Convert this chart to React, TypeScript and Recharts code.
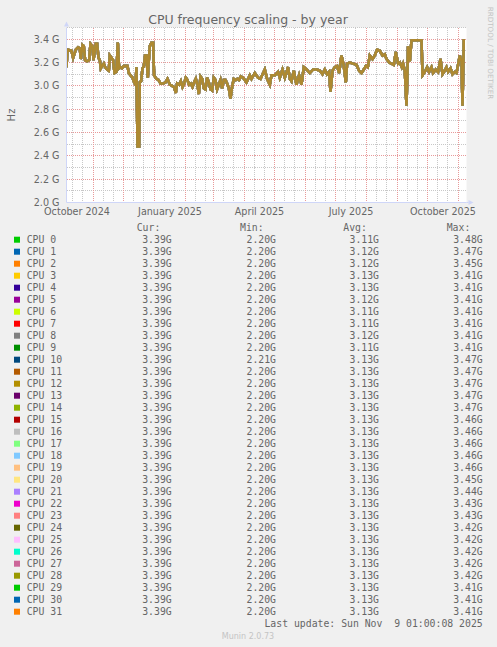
import React from 'react';
import { LineChart, Line, XAxis, YAxis, ReferenceLine } from 'recharts';

// munin palette, one per cpu
const cpuColors = [
  '#00CC00', '#0066B3', '#FF8000', '#FFCC00', '#330099', '#990099', '#CCFF00', '#FF0000',
  '#808080', '#008F00', '#00487D', '#B35A00', '#B38F00', '#6B006B', '#8FB300', '#B30000',
  '#BEBEBE', '#80FF80', '#80C9FF', '#FFC080', '#FFE680', '#AA80FF', '#EE00CC', '#FF8080',
  '#666600', '#FFBFFF', '#00FFCC', '#CC6699', '#999900', '#00CC00', '#0066B3', '#FF8000',
];
const cpuNames = cpuColors.map((_, i) => `CPU ${i}`);

const curValues = Array(32).fill('3.39G');
const minValues = [
  '2.20G', '2.20G', '2.20G', '2.20G', '2.20G', '2.20G', '2.20G', '2.20G',
  '2.20G', '2.20G', '2.21G', '2.20G', '2.20G', '2.20G', '2.20G', '2.20G',
  '2.20G', '2.20G', '2.20G', '2.20G', '2.20G', '2.20G', '2.20G', '2.20G',
  '2.20G', '2.20G', '2.20G', '2.20G', '2.20G', '2.20G', '2.20G', '2.20G',
];
const avgValues = [
  '3.11G', '3.12G', '3.12G', '3.13G', '3.13G', '3.12G', '3.11G', '3.11G',
  '3.12G', '3.11G', '3.13G', '3.13G', '3.13G', '3.13G', '3.13G', '3.13G',
  '3.13G', '3.13G', '3.13G', '3.13G', '3.13G', '3.13G', '3.13G', '3.13G',
  '3.13G', '3.13G', '3.13G', '3.13G', '3.13G', '3.13G', '3.13G', '3.13G',
];
const maxValues = [
  '3.48G', '3.47G', '3.45G', '3.41G', '3.41G', '3.41G', '3.41G', '3.41G',
  '3.41G', '3.41G', '3.47G', '3.47G', '3.47G', '3.47G', '3.47G', '3.46G',
  '3.46G', '3.46G', '3.46G', '3.46G', '3.45G', '3.44G', '3.43G', '3.43G',
  '3.42G', '3.42G', '3.42G', '3.42G', '3.42G', '3.41G', '3.41G', '3.41G',
];

// days since 2024-10-05 (left edge of the graph)
const days = [
  0, 1, 5, 6.6, 9.3, 11.6, 13.3, 14.3, 16, 17.3, 18.6, 20.6, 22.6, 24, 26, 27, 28.3, 29.3, 30.6, 32,
  33.3, 34.3, 35.6, 37.3, 38.6, 40.6, 42.3, 43.3, 45, 46.6, 48, 50, 51.3, 52.6, 54, 55.6, 57.3, 59.3,
  61, 62.3, 64, 66, 67.6, 69, 70, 71, 72.6, 73.3, 74.6, 76, 77.3, 78.6, 80, 81.3, 82, 83.3, 85, 86.6,
  87.6, 90, 92, 94, 96.6, 99, 101, 103.3, 105.6, 107.6, 109.3, 110.6, 112.6, 114.3, 116, 117.6, 119.3,
  121, 122.6, 124.3, 126, 127.6, 129.3, 131, 132.3, 134, 135.6, 137.3, 139, 140.6, 142.3, 144, 145.6,
  147.3, 149, 150.6, 152.3, 154, 155.6, 157.3, 159, 160.6, 162.3, 164, 165.6, 167.3, 169.3, 171, 172.6,
  174.3, 176.6, 180, 183.3, 185, 188.3, 191.6, 194, 198.3, 200.6, 203.3, 205, 208.3, 211.6, 213.3, 216,
  218.3, 221.6, 223.3, 225, 227.3, 230, 232.6, 235, 237.3, 240, 243.3, 246.6, 250, 253.3, 256, 258.3,
  260.6, 262.6, 264, 266, 268.3, 270.6, 272.6, 275, 277.3, 279.3, 280.6, 283.3, 286.6, 290, 292.6, 295,
  297.3, 299.3, 301.3, 303.3, 306, 308.3, 310.6, 313.3, 316, 318.3, 320, 322.6, 325, 327.3, 329.3,
  331.6, 333.3, 335.3, 336.6, 338.3, 340, 341.6, 343.3, 345, 346.6, 355, 356, 358.3, 360.6, 362.6, 365,
  366.6, 369.3, 371.6, 374, 376, 378.3, 380, 381.6, 384, 386, 388.3, 390, 391.6, 393.3, 395, 396,
  397.3, 398.3,
];
// GHz
const freq = [
  3.16, 3.31, 3.30, 3.24, 3.31, 3.33, 3.32, 3.23, 3.35, 3.34, 3.22, 3.21, 3.22, 3.36, 3.34, 3.22, 3.30, 3.36, 3.36, 3.24,
  3.22, 3.15, 3.17, 3.19, 3.16, 3.14, 3.13, 3.26, 3.24, 3.22, 3.11, 3.12, 3.37, 3.15, 3.16, 3.15, 3.17, 3.17,
  3.17, 3.11, 3.09, 3.07, 3.03, 3.01, 3.16, 2.48, 2.48, 3.03, 3.04, 3.15, 3.17, 3.26, 3.26, 3.07, 3.18, 3.34, 3.37, 3.37,
  3.09, 3.06, 3.05, 3.02, 3.02, 3.03, 3.06, 3.01, 3.00, 2.99, 2.94, 3.02, 3.01, 3.04, 2.99, 3.02, 3.07,
  3.05, 3.01, 3.02, 2.99, 3.03, 3.06, 3.01, 2.93, 3.08, 3.06, 2.98, 2.97, 3.07, 3.03, 2.97, 2.96,
  3.07, 3.05, 2.97, 3.01, 3.05, 2.98, 3.05, 3.05, 3.02, 2.98, 2.89, 2.99, 3.06, 3.05, 3.06, 3.05,
  3.08, 3.07, 3.03, 3.09, 3.06, 3.11, 3.07, 3.06, 3.14, 3.06, 3.01, 3.09, 3.09, 3.12, 3.07, 3.14,
  3.07, 3.16, 3.06, 3.04, 3.13, 3.01, 3.09, 3.01, 3.16, 3.14, 3.11, 3.14, 3.14, 3.13, 3.10, 3.14,
  3.10, 3.12, 2.95, 3.13, 3.16, 3.17, 3.11, 3.26, 3.17, 3.03, 3.19, 3.20, 3.19, 3.18, 3.13, 3.11,
  3.14, 3.17, 3.16, 3.26, 3.23, 3.26, 3.31, 3.30, 3.26, 3.27, 3.23, 3.20, 3.19, 3.18, 3.29,
  3.19, 3.20, 3.16, 3.19, 3.13, 2.83, 3.34, 3.21, 3.39, 3.39, 3.39, 3.09, 3.12, 3.16, 3.12, 3.16,
  3.11, 3.14, 3.12, 3.23, 3.10, 3.13, 3.16, 3.12, 3.15, 3.10, 3.12, 3.11, 3.18, 3.26, 3.21, 2.83,
  3.39, 3.39,
];

const yTicks = [2.0, 2.2, 2.4, 2.6, 2.8, 3.0, 3.2, 3.4];
const yMajorGrid = [2.2, 2.4, 2.6, 2.8, 3.0, 3.2, 3.4];
const yMinorGrid = [2.1, 2.3, 2.5, 2.7, 2.9, 3.1, 3.3, 3.5];

const monthLabels = ['October 2024', 'January 2025', 'April 2025', 'July 2025', 'October 2025'];
const monthLabelDays = [10.5, 103.5, 193, 284.5, 376.5];
// first of each month
const monthGridDays = [27, 57, 88, 119, 147, 178, 208, 239, 269, 300, 331, 361, 392];
// 11th and 21st of each month
const dayGridDays = [
  6, 16, 37, 47, 67, 77, 98, 108, 129, 139, 157, 167, 188, 198, 218, 228,
  249, 259, 279, 289, 310, 320, 341, 351, 371, 381,
];

const data = days.map((d, i) => ({ day: d, freq: freq[i] }));

const FONT = 'DejaVu Sans, sans-serif';
const MONO = 'DejaVu Sans Mono, monospace';
const TEXT = '#666666';
const AXIS = '#CFD6F8';
const MGRID = '#e89a9a';
const GRID = '#c8c8c8';

const PLOT = { left: 66.5, right: 466.5, top: 27.5, bottom: 202.5 };

export default function App() {
  const rowY = (i: number) => 239.7 + 12 * i;
  return (
    <div style={{ position: 'absolute', left: 0, top: 0, width: 497, height: 647, background: '#f0f0f0', overflow: 'hidden' }}>
      <div style={{ position: 'absolute', left: 0, top: 0 }}>
        <LineChart
          width={497}
          height={230}
          data={data}
          margin={{ top: PLOT.top, right: 497 - PLOT.right, bottom: 0, left: PLOT.left - 60 }}
        >
          <rect x={PLOT.left} y={PLOT.top} width={PLOT.right - PLOT.left} height={PLOT.bottom - PLOT.top} fill="#ffffff" />
          {yMinorGrid.map((v) => (
            <ReferenceLine key={`ym${v}`} y={v} stroke={GRID} strokeDasharray="1 1" shapeRendering="crispEdges" />
          ))}
          {dayGridDays.map((d) => (
            <ReferenceLine key={`xm${d}`} x={d} stroke={GRID} strokeDasharray="1 1" shapeRendering="crispEdges" />
          ))}
          {yMajorGrid.map((v) => (
            <ReferenceLine key={`yM${v}`} y={v} stroke={MGRID} strokeDasharray="1 1" shapeRendering="crispEdges" />
          ))}
          {monthGridDays.map((d) => (
            <ReferenceLine key={`xM${d}`} x={d} stroke={MGRID} strokeDasharray="1 1" shapeRendering="crispEdges" />
          ))}
          <XAxis
            type="number"
            dataKey="day"
            domain={[0, 400]}
            ticks={monthLabelDays}
            interval={0}
            tickFormatter={(v) => monthLabels[monthLabelDays.indexOf(v)]}
            tickLine={false}
            tickSize={0}
            tickMargin={6}
            height={230 - PLOT.bottom}
            axisLine={{ stroke: AXIS }}
            tick={{ fill: TEXT, fontSize: 9.6, fontFamily: FONT }}
            allowDataOverflow
          />
          <YAxis
            type="number"
            domain={[2.0, 3.5]}
            ticks={yTicks}
            interval={0}
            tickFormatter={(v) => `${v.toFixed(1)} G`}
            width={60}
            tickLine={false}
            tickSize={0}
            tickMargin={7}
            axisLine={{ stroke: AXIS }}
            tick={{ fill: TEXT, fontSize: 9.6, fontFamily: FONT }}
            allowDataOverflow
          />
          {cpuNames.map((name, i) => (
            <Line
              key={name}
              name={name}
              type="linear"
              dataKey="freq"
              stroke={cpuColors[i]}
              strokeOpacity={i === cpuNames.length - 1 ? 0.55 : 0.3}
              strokeWidth={2.5}
              dot={false}
              isAnimationActive={false}
            />
          ))}
        </LineChart>
      </div>

      <svg width={497} height={647} style={{ position: 'absolute', left: 0, top: 0 }}>
        {/* axis arrows */}
        <polygon points={`${PLOT.left - 2.5},${PLOT.top - 1} ${PLOT.left + 2.5},${PLOT.top - 1} ${PLOT.left},${PLOT.top - 6}`} fill={AXIS} />
        <line x1={PLOT.right} y1={PLOT.bottom} x2={PLOT.right + 2} y2={PLOT.bottom} stroke={AXIS} />
        <polygon points={`${PLOT.right + 2},${PLOT.bottom - 2.5} ${PLOT.right + 2},${PLOT.bottom + 2.5} ${PLOT.right + 7},${PLOT.bottom}`} fill={AXIS} />

        <text x={248} y={19.5} textAnchor="middle" dominantBaseline="central" fontFamily={FONT} fontSize={12.5} fill={TEXT}>
          CPU frequency scaling - by year
        </text>
        <text x={11} y={115} textAnchor="middle" dominantBaseline="central" fontFamily={FONT} fontSize={10} fill={TEXT} transform="rotate(-90 11 115)">
          Hz
        </text>
        <text x={490} y={53} textAnchor="middle" dominantBaseline="central" fontFamily={FONT} fontSize={7.2} fill="#c4c4c4" transform="rotate(90 490 53)">
          RRDTOOL / TOBI OETIKER
        </text>

        <g fontFamily={MONO} fontSize={9.8} fill={TEXT}>
          <text x={136.7} y={227.3} dominantBaseline="central">Cur:</text>
          <text x={240} y={227.3} dominantBaseline="central">Min:</text>
          <text x={343.3} y={227.3} dominantBaseline="central">Avg:</text>
          <text x={446.7} y={227.3} dominantBaseline="central">Max:</text>
          {cpuNames.map((name, i) => (
            <g key={name}>
              <rect x={14} y={rowY(i) - 3} width={6} height={6} fill={cpuColors[i]} />
              <text x={26.7} y={rowY(i)} dominantBaseline="central">{name}</text>
              <text x={171.7} y={rowY(i)} textAnchor="end" dominantBaseline="central">{curValues[i]}</text>
              <text x={276} y={rowY(i)} textAnchor="end" dominantBaseline="central">{minValues[i]}</text>
              <text x={379} y={rowY(i)} textAnchor="end" dominantBaseline="central">{avgValues[i]}</text>
              <text x={482.7} y={rowY(i)} textAnchor="end" dominantBaseline="central">{maxValues[i]}</text>
            </g>
          ))}
          <text x={482.7} y={623.7} textAnchor="end" dominantBaseline="central">
            {'Last update: Sun Nov \u00a09 01:00:08 2025'}
          </text>
        </g>
        <text x={248} y={636} textAnchor="middle" dominantBaseline="central" fontFamily={FONT} fontSize={8} fill="#c4c4c4">
          Munin 2.0.73
        </text>
      </svg>
    </div>
  );
}
